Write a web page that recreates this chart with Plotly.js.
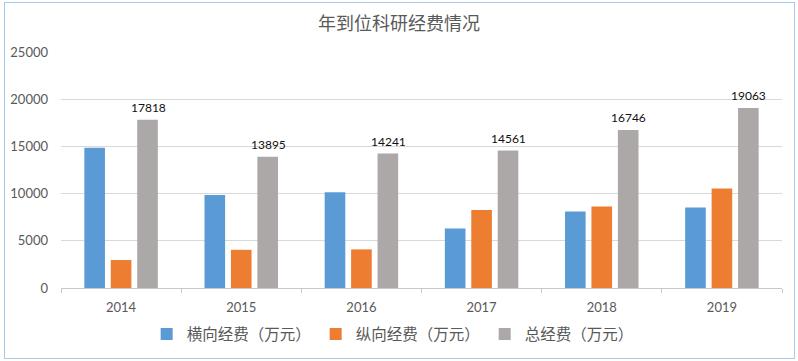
<!DOCTYPE html>
<html>
<head>
<meta charset="utf-8">
<script src="https://cdn.plot.ly/plotly-3.0.1.min.js"></script>
<style>
html,body{margin:0;padding:0;background:#fff;}
#wrap{position:relative;width:798px;height:361px;}
#chart{width:798px;height:361px;}
#frame{position:absolute;left:4px;top:2px;width:789px;height:355px;border:1px solid #a8c9ec;pointer-events:none;}
</style>
</head>
<body>
<div id="wrap"><div id="chart"></div><div id="frame"></div></div>
<script>
const years = ['2014','2015','2016','2017','2018','2019'];
const horizontal = [14850, 9850, 10150, 6300, 8100, 8530];
const vertical = [2968, 4045, 4091, 8261, 8646, 10533];
const total = [17818, 13895, 14241, 14561, 16746, 19063];
const seriesNames = ['横向经费（万元）', '纵向经费（万元）', '总经费（万元）'];
const colors = ['#5B9BD5', '#ED7D31', '#ABA8A7'];

const num = 'Lato, "Noto Sans CJK SC", sans-serif';

const traces = [horizontal, vertical, total].map((vals, i) => ({
  type: 'bar',
  name: seriesNames[i],
  x: years,
  y: vals,
  marker: {color: colors[i]},
  hoverinfo: 'x+y'
}));

const annotations = years.map((yr, i) => ({
  x: i, y: total[i], xref: 'x', yref: 'y',
  text: String(total[i]),
  showarrow: false,
  xshift: 27, yshift: 3,
  yanchor: 'bottom',
  font: {family: num, size: 12, color: '#111'}
}));

const layout = {
  width: 798, height: 361,
  margin: {l: 61, r: 16, t: 52, b: 73, autoexpand: false},
  paper_bgcolor: '#fff', plot_bgcolor: '#fff',
  title: {text: '年到位科研经费情况', x: 0.5, xanchor: 'center', y: 0.935, yanchor: 'middle',
          font: {family: '"Noto Sans CJK SC", sans-serif', size: 18, color: '#595959'}},
  barmode: 'group',
  bargap: 0.34,
  bargroupgap: 0.22,
  xaxis: {
    type: 'category',
    automargin: false,
    range: [-0.5, years.length - 0.5],
    showline: true, linecolor: '#c8c8c8', linewidth: 1,
    ticks: 'outside', tickson: 'boundaries', ticklen: 4, tickcolor: '#c8c8c8',
    tickfont: {family: num, size: 13, color: '#595959'},
    ticklabelstandoff: 7,
    tickangle: 0,
    showgrid: false, zeroline: false
  },
  yaxis: {
    automargin: false,
    range: [0, 25000], dtick: 5000, tick0: 0,
    tickformat: 'd',
    showgrid: true, gridcolor: '#d9d9d9', gridwidth: 1,
    zeroline: false, showline: false,
    tickfont: {family: num, size: 13, color: '#595959'},
    ticks: '', ticklabelstandoff: 12
  },
  legend: {
    orientation: 'h', x: 0.46, xanchor: 'center', y: -0.125, yanchor: 'top',
    font: {family: '"Noto Sans CJK SC", sans-serif', size: 15.5, color: '#595959'},
    itemwidth: 30, tracegroupgap: 0
  },
  annotations: annotations,
  showlegend: true
};

Plotly.newPlot('chart', traces, layout, {displayModeBar: false, staticPlot: true});
</script>
</body>
</html>
